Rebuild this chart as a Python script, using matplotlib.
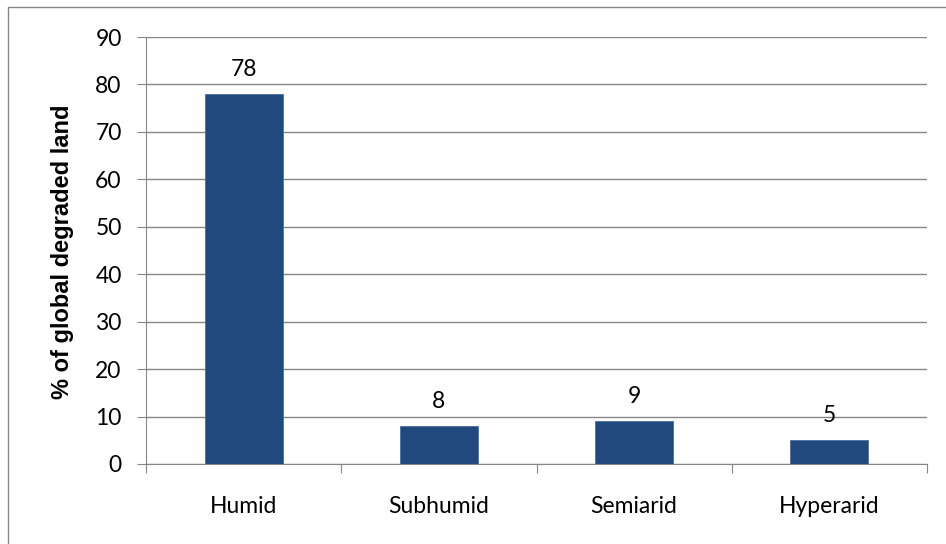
import matplotlib.pyplot as plt
from matplotlib.patches import Rectangle

categories = ['Humid', 'Subhumid', 'Semiarid', 'Hyperarid']
values = [78, 8, 9, 5]

plt.rcParams['font.family'] = ['Lato', 'DejaVu Sans']

W, H = 946, 544
fig = plt.figure(figsize=(W / 100, H / 100), dpi=100)
ax = fig.add_axes([146 / W, 1 - 464 / H, (927 - 146) / W, (464 - 37) / H])

x = range(len(categories))
ax.bar(x, values, width=0.4, color='#21497d', edgecolor='#4a6f9e', linewidth=0.6, zorder=3)
for xi, v in zip(x, values):
    ax.annotate(str(v), (xi, v), xytext=(0, 10), textcoords='offset points',
                ha='center', va='bottom', fontsize=16.5)

ax.set_xlim(-0.5, len(categories) - 0.5)
ax.set_ylim(0, 90)
ax.set_yticks(range(0, 91, 10))
ax.tick_params(axis='y', labelsize=16.5, length=6.5, color='#868686', pad=11)
ax.set_xticks([i - 0.5 for i in range(len(categories) + 1)], minor=False)
ax.set_xticklabels([''] * (len(categories) + 1))
ax.set_xticks(list(x), minor=True)
ax.set_xticklabels(categories, minor=True)
ax.tick_params(axis='x', which='major', length=6.5, color='#868686')
ax.tick_params(axis='x', which='minor', length=0, labelsize=16.5, pad=23)
ax.grid(axis='y', color='#868686', linewidth=1, zorder=0)
for s in ['top', 'right']:
    ax.spines[s].set_visible(False)
for s in ['left', 'bottom']:
    ax.spines[s].set_color('#868686')

fig.text(62 / W, 1 - 252 / H, '% of global degraded land', rotation=90,
         ha='center', va='center', fontsize=17, fontweight='bold', family='Liberation Sans')

fig.patches.append(Rectangle((8 / W, -0.1), 1.2, 1 - 7 / H + 0.1, transform=fig.transFigure,
                             fill=False, edgecolor='#868686', linewidth=1))

fig.savefig('out.png', dpi=100)
